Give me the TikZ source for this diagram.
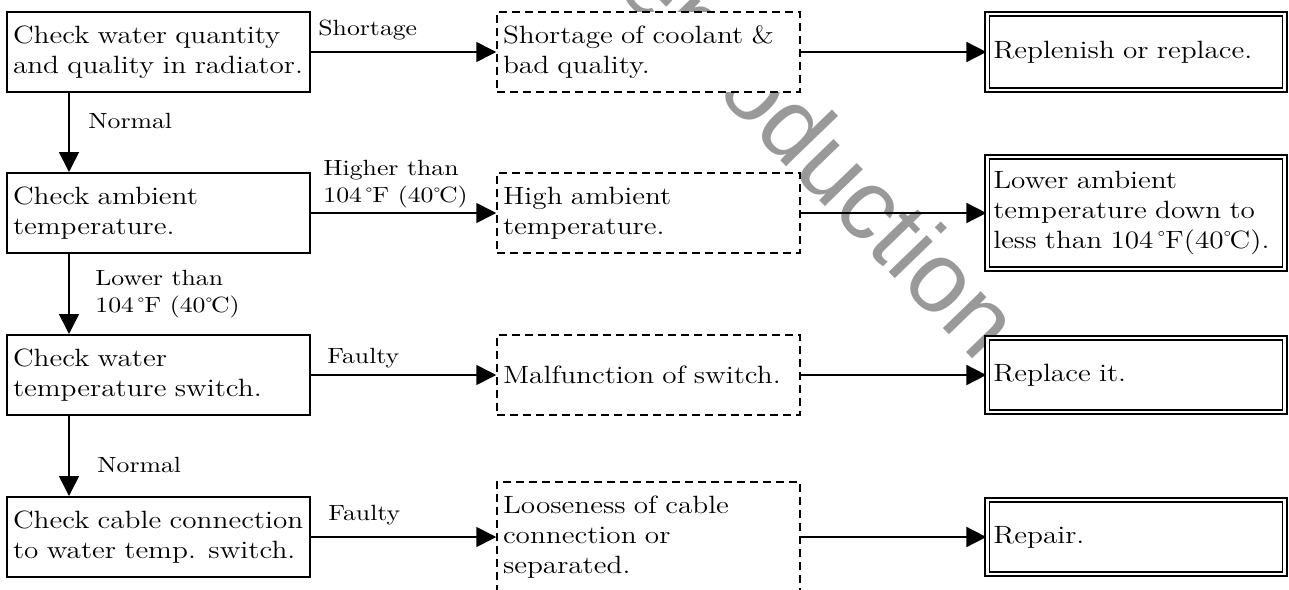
\documentclass[tikz,border=0pt]{standalone}
\usepackage{fontspec}
\setmainfont{Latin Modern Roman}[FakeStretch=1.17]
\newfontfamily\wmfont{Liberation Sans}
\usetikzlibrary{arrows.meta, positioning}
\newcommand{\ringmark}{\raisebox{0.45ex}{\scalebox{0.7}{\textdegree}}}
\newcommand{\degF}{\,\ringmark F}
\newcommand{\degC}{\ringmark\kern-0.06em C}

\begin{document}
\begin{tikzpicture}[x=0.5pt, y=-0.5pt,
  font=\fontsize{12.5}{15}\selectfont,
  chkbox/.style={draw, line width=1pt, fill=white, text width=145.5pt,
                 inner xsep=3pt, minimum height=40pt, align=left},
  causebox/.style={draw, line width=0.75pt, dash pattern=on 4pt off 2.5pt,
                   fill=white, text width=145.5pt, inner xsep=3pt,
                   minimum height=40pt, align=left},
  fixbox/.style={draw, line width=0.9pt, double, double distance=1.3pt,
                 fill=white, text width=142.7pt, inner xsep=3pt,
                 minimum height=37pt, align=left},
  lbl/.style={anchor=north west, inner sep=0pt, align=left,
              font=\fontsize{11}{13.5}\selectfont},
  arr/.style={-{Triangle[length=10pt, width=10pt]}, line width=0.8pt},
  watermark/.style={font=\wmfont\fontsize{50}{60}\selectfont, text=black!40,
                    rotate=-46}
]
  \useasboundingbox (0,0) rectangle (1289,589);

  \node[watermark] (wm) at (789,132) {Reproduction};

  % checks
  \node[chkbox] (chk1) at (158.5,52) {Check water quantity\\and quality in radiator.};
  \node[chkbox] (chk2) at (158.5,213) {Check ambient\\temperature.};
  \node[chkbox] (chk3) at (158.5,375) {Check water\\temperature switch.};
  \node[chkbox] (chk4) at (158.5,537) {Check cable connection\\to water temp. switch.};

  % causes
  \node[causebox] (cau1) at (648.5,52) {Shortage of coolant \&\\bad quality.};
  \node[causebox] (cau2) at (648.5,213) {High ambient\\temperature.};
  \node[causebox] (cau3) at (648.5,375) {Malfunction of switch.};
  \node[causebox, minimum height=55pt] (cau4) at (648.5,537) {Looseness of cable\\connection or\\separated.};

  % remedies
  \node[fixbox, minimum height=38pt] (fix1) at (1136,52) {Replenish or replace.};
  \node[fixbox, minimum height=56pt] (fix2) at (1136,213) {Lower ambient\\temperature down to\\less than 104\degF(40\degC).};
  \node[fixbox] (fix3) at (1136,375) {Replace it.};
  \node[fixbox] (fix4) at (1136,537) {Repair.};

  % labels
  \node[lbl] (lshort) at (318,20) {Shortage};
  \node[lbl] (lhigh) at (323,160) {Higher than\\104\degF{} (40\degC)};
  \node[lbl] (lfault1) at (327,348) {Faulty};
  \node[lbl] (lfault2) at (328,505) {Faulty};
  \node[lbl] (lnorm1) at (88,113) {Normal};
  \node[lbl] (llow) at (95,270) {Lower than\\104\degF{} (40\degC)};
  \node[lbl] (lnorm2) at (97,457) {Normal};

  \draw[arr] ([xshift=31.5pt]chk1.south west) -- ([xshift=31.5pt]chk2.north west);
  \draw[arr] ([xshift=31.5pt]chk2.south west) -- ([xshift=31.5pt]chk3.north west);
  \draw[arr] ([xshift=31.5pt]chk3.south west) -- ([xshift=31.5pt]chk4.north west);

  \draw[arr] (chk1) -- (cau1);
  \draw[arr] (chk2) -- (cau2);
  \draw[arr] (chk3) -- (cau3);
  \draw[arr] (chk4) -- (cau4);

  \draw[arr] (cau1) -- (fix1);
  \draw[arr] (cau2) -- (fix2);
  \draw[arr] (cau3) -- (fix3);
  \draw[arr] (cau4) -- (fix4);
\end{tikzpicture}
\end{document}
